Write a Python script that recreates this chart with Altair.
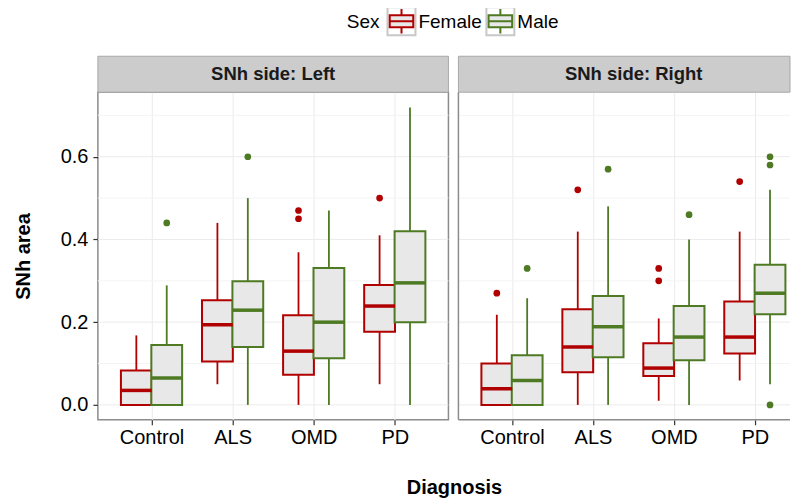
import altair as alt
import pandas as pd

# ---- data ----
categories = ["Control", "ALS", "OMD", "PD"]
sex_levels = ["Female", "Male"]

box_side = ["Left"] * 8 + ["Right"] * 8
box_diag = ["Control", "Control", "ALS", "ALS", "OMD", "OMD", "PD", "PD"] * 2
box_sex = ["Female", "Male"] * 8
box_lower = [0.0, 0.0, 0.05, 0.0, 0.0, 0.0, 0.05, 0.0,
             0.0, 0.0, 0.0, 0.0, 0.01, 0.0, 0.059, 0.05]
box_q1 = [0.0, 0.0, 0.105, 0.14, 0.073, 0.113, 0.177, 0.20,
          0.0, 0.0, 0.079, 0.115, 0.07, 0.108, 0.124, 0.219]
box_median = [0.035, 0.065, 0.194, 0.229, 0.13, 0.20, 0.239, 0.295,
              0.039, 0.059, 0.14, 0.189, 0.089, 0.164, 0.164, 0.27]
box_q3 = [0.083, 0.145, 0.253, 0.299, 0.217, 0.331, 0.29, 0.42,
          0.10, 0.12, 0.231, 0.263, 0.149, 0.239, 0.25, 0.339]
box_upper = [0.168, 0.289, 0.44, 0.50, 0.369, 0.47, 0.41, 0.719,
             0.218, 0.258, 0.419, 0.48, 0.209, 0.40, 0.419, 0.52]

out_side = ["Left", "Left", "Left", "Left", "Left",
            "Right", "Right", "Right", "Right", "Right", "Right", "Right", "Right", "Right", "Right", "Right"]
out_diag = ["Control", "ALS", "OMD", "OMD", "PD",
            "Control", "Control", "ALS", "ALS", "OMD", "OMD", "OMD", "PD", "PD", "PD", "PD"]
out_sex = ["Male", "Male", "Female", "Female", "Female",
           "Female", "Male", "Female", "Male", "Female", "Female", "Male", "Female", "Male", "Male", "Male"]
out_value = [0.44, 0.60, 0.47, 0.45, 0.50,
             0.27, 0.33, 0.52, 0.57, 0.33, 0.30, 0.46, 0.54, 0.60, 0.58, 0.0]

major_ticks = [0.0, 0.2, 0.4, 0.6]
minor_grid = [0.1, 0.3, 0.5, 0.7]

box_df = pd.DataFrame({"side": box_side, "diagnosis": box_diag, "sex": box_sex,
                       "lower": box_lower, "q1": box_q1, "median": box_median,
                       "q3": box_q3, "upper": box_upper})
out_df = pd.DataFrame({"side": out_side, "diagnosis": out_diag, "sex": out_sex, "value": out_value})

# ---- style ----
RED = "#B00000"
GREEN = "#4D7A22"
BOXFILL = "#E8E8E8"
GRID = "#EBEBEB"
MINOR = "#F4F4F4"
BORDER = "#8C8C8C"
FULL_W = 351
STEP = FULL_W / 4.2          # ggplot discrete expansion: 0.6 on each side
H = 328
YDOM = [-0.036, 0.756]
FONT = "Liberation Sans"
DODGE = 0.1875               # half of the dodged box width, in category units

color_scale = alt.Scale(domain=sex_levels, range=[RED, GREEN])
GLYPH_PATH = "M-0.85,-0.43H0.85V0.43H-0.85Z M-0.85,0H0.85 M0,-0.43V-0.88 M0,0.43V0.88"
POS_EXPR = (f"indexof({categories}, datum.diagnosis) + "
            f"(datum.sex == 'Female' ? {-DODGE} : {DODGE})")


def panel(side, first, width):
    d = box_df[box_df.side == side]
    o = out_df[out_df.side == side]
    xs = alt.Scale(domain=[-0.6, -0.6 + width / STEP], nice=False, zero=False)
    xax = alt.Axis(title=None, values=[0, 1, 2, 3], labelExpr=f"{categories}[datum.value]",
                   grid=True, gridColor=GRID, labelFontSize=20, labelColor="black",
                   tickColor="#333333", tickSize=5, tickWidth=1.2, labelPadding=3,
                   domain=False, labelAngle=0, labelFlush=False, labelOverlap=False)
    x = alt.X("pos:Q", scale=xs, axis=xax)
    ys = alt.Scale(domain=YDOM, nice=False, zero=False)
    if first:
        yax = alt.Axis(title="SNh area", values=major_ticks, format=".1f", grid=False,
                       labelFontSize=20, labelColor="black",
                       tickColor="#333333", tickSize=5, tickWidth=1.2, labelPadding=5,
                       titleFontSize=20, titleFontWeight="bold", titleColor="black",
                       titlePadding=27, domain=False)
    else:
        yax = None
    col = alt.Color("sex:N", scale=color_scale, legend=None)

    layers = []
    layers.append(alt.Chart(pd.DataFrame({"v": minor_grid})).mark_rule(
        color=MINOR, strokeWidth=1).encode(y=alt.Y("v:Q", scale=ys, axis=yax)))
    layers.append(alt.Chart(pd.DataFrame({"v": major_ticks})).mark_rule(
        color=GRID, strokeWidth=1).encode(y=alt.Y("v:Q", scale=ys, axis=yax)))

    base = alt.Chart(d).transform_calculate(pos=POS_EXPR)
    layers.append(base.mark_rule(strokeWidth=1.8).encode(
        x=x, y=alt.Y("lower:Q", scale=ys, axis=yax), y2="upper:Q", color=col))
    layers.append(base.mark_bar(filled=False, fill=BOXFILL, strokeWidth=2, orient="vertical",
                                size=STEP * 2 * DODGE - 0.5).encode(
        x=x, y=alt.Y("q1:Q", scale=ys, axis=yax), y2="q3:Q", color=col))
    layers.append(base.mark_tick(orient="horizontal", thickness=3.5, size=STEP * 2 * DODGE - 0.5,
                                 opacity=1).encode(
        x=x, y=alt.Y("median:Q", scale=ys, axis=yax), color=col))
    layers.append(alt.Chart(o).transform_calculate(pos=POS_EXPR).mark_circle(
        size=45, opacity=1).encode(x=x, y=alt.Y("value:Q", scale=ys, axis=yax), color=col))

    strip_df = pd.DataFrame({"label": [f"SNh side: {side}"]})
    layers.append(alt.Chart(strip_df).mark_rect(fill="#CCCCCC", stroke="#A8A8A8",
                                                strokeWidth=1).encode(
        x=alt.value(0), x2=alt.value(width), y=alt.value(-36), y2=alt.value(0)))
    layers.append(alt.Chart(strip_df).mark_text(fontSize=18.5, fontWeight="bold",
                                                color="#1A1A1A", font=FONT).encode(
        x=alt.value(FULL_W / 2), y=alt.value(-18), text="label:N"))

    if first:
        view = alt.ViewBackground(stroke=BORDER, strokeWidth=1.5)
    else:
        # open on the right: the reference is cut off there
        view = alt.ViewBackground(strokeWidth=0)
        border_df = pd.DataFrame({"b": [0]})
        layers.append(alt.Chart(border_df).mark_rule(color=BORDER, strokeWidth=1.5).encode(
            x=alt.value(0), y=alt.value(0), y2=alt.value(H)))
        layers.append(alt.Chart(border_df).mark_rule(color=BORDER, strokeWidth=1.5).encode(
            x=alt.value(0), x2=alt.value(width), y=alt.value(H)))

    return alt.layer(*layers).properties(width=width, height=H, view=view)


# ---- legend (drawn as a small chart; x is relative to the left panel's plot area) ----
leg_df = pd.DataFrame({"sex": sex_levels})
lx = alt.X("sex:N", scale=alt.Scale(type="point", domain=sex_levels, range=[304, 403], padding=0),
           axis=None)
leg_key = alt.Chart(leg_df).mark_square(size=784, fill="white", stroke="#C8C8C8",
                                        strokeWidth=2, opacity=1).encode(x=lx, y=alt.value(14))
leg_glyph = alt.Chart(leg_df).mark_point(shape=GLYPH_PATH, size=770, filled=False, fill=BOXFILL,
                                         fillOpacity=1, strokeWidth=2, opacity=1).encode(
    x=lx, y=alt.value(14), color=alt.Color("sex:N", scale=color_scale, legend=None))
leg_lab = alt.Chart(leg_df).mark_text(align="left", dx=17, fontSize=19, color="black",
                                      font=FONT).encode(x=lx, y=alt.value(15), text="sex:N")
leg_title = alt.Chart(pd.DataFrame({"t": ["Sex"]})).mark_text(
    align="right", fontSize=19, color="black", font=FONT).encode(
    x=alt.value(282), y=alt.value(15), text="t:N")
legend_chart = alt.layer(leg_key, leg_glyph, leg_lab, leg_title).properties(
    width=600, height=28, view=alt.ViewBackground(strokeWidth=0))

# ---- shared x-axis title (own row) ----
xtitle_chart = alt.Chart(pd.DataFrame({"t": ["Diagnosis"]})).mark_text(
    fontSize=20, fontWeight="bold", color="black", font=FONT, baseline="alphabetic").encode(
    x=alt.value(357), y=alt.value(30), text="t:N").properties(
    width=600, height=30, view=alt.ViewBackground(strokeWidth=0))

panels = alt.hconcat(panel("Left", True, FULL_W), panel("Right", False, 332), spacing=7)

chart = alt.vconcat(legend_chart, panels, xtitle_chart, spacing=15).properties(
    padding={"left": 4, "top": -5, "right": 0, "bottom": 0},
).configure(font=FONT)

chart.save("out.html", embed_options={"renderer": "svg", "actions": False})
